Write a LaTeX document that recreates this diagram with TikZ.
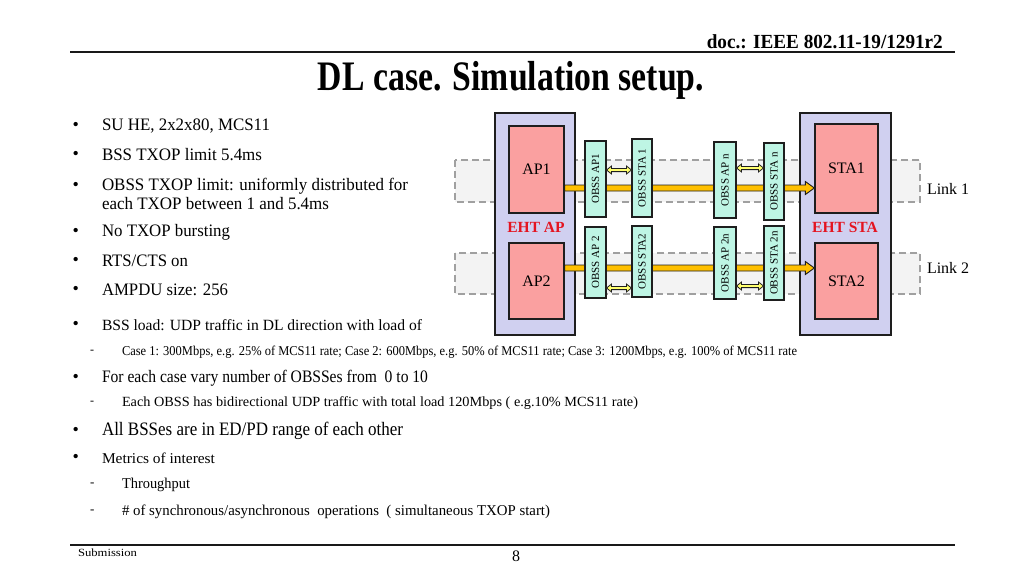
\documentclass[tikz,border=0pt]{standalone}
\usepackage{fontspec}
\setmainfont{Liberation Serif}
\usepackage{graphicx}
\usetikzlibrary{calc}
\definecolor{lav}{RGB}{208,208,240}
\definecolor{pinkbox}{RGB}{250,160,160}
\definecolor{aqua}{RGB}{190,245,228}
\definecolor{orarrow}{RGB}{255,192,0}
\definecolor{ylarrow}{RGB}{255,255,110}
\definecolor{linkfill}{RGB}{243,243,243}
\definecolor{linkdash}{RGB}{160,160,160}
\definecolor{ehtred}{RGB}{228,20,32}
\definecolor{edge}{RGB}{30,30,30}
\newcommand\fs[1]{\fontsize{#1}{#1}\selectfont}
% text set at size #2, stretched horizontally to width #1
\newcommand\fitw[3]{\resizebox{#1pt}{\height}{\fs{#2}#3}}
\newcommand\fatarrow[2]{\draw[fatarr] ($(#1)+(0,-3)$) -- ($(#2)+(-9,-3)$) -- ($(#2)+(-9,-6.5)$) -- (#2) -- ($(#2)+(-9,6.5)$) -- ($(#2)+(-9,3)$) -- ($(#1)+(0,3)$) -- cycle;}
\newcommand\dblarrow[2]{\draw[smallarr] (#1) -- ($(#1)+(5,-4)$) -- ($(#1)+(5,-1.6)$) -- ($(#2)+(-5,-1.6)$) -- ($(#2)+(-5,-4)$) -- (#2) -- ($(#2)+(-5,4)$) -- ($(#2)+(-5,1.6)$) -- ($(#1)+(5,1.6)$) -- ($(#1)+(5,4)$) -- cycle;}
\begin{document}
\begin{tikzpicture}[x=1pt,y=-1pt,
  txt/.style={anchor=west,inner sep=0pt,outer sep=0pt},
  linkbox/.style={draw=linkdash,fill=linkfill,dash pattern=on 7pt off 4pt,line width=1.3pt},
  outerbox/.style={draw=edge,fill=lav,line width=1.4pt,inner sep=0pt},
  devbox/.style={draw=edge,fill=pinkbox,line width=1.3pt,inner sep=0pt,font=\fs{16}},
  obssbox/.style={draw=edge,fill=aqua,line width=1.1pt,inner sep=0pt,font=\fs{11}},
  fatarr/.style={draw=edge,fill=orarrow,line width=0.9pt},
  smallarr/.style={draw=edge,fill=ylarrow,line width=0.8pt},
  ehtlabel/.style={inner sep=0pt,text=ehtred,font=\bfseries\fs{15.5}},
  rule/.style={line width=2pt,draw=black!90}]
\fill[white] (0,0) rectangle (1024,576);
\useasboundingbox (0,0) rectangle (1024,576);

% header and footer
\node[anchor=east,inner sep=0pt] (doc) at (943,42) {\fitw{236}{20}{\bfseries doc.: IEEE 802.11-19/1291r2}};
\coordinate (tl) at (70,52);
\coordinate (tr) at (955,52);
\draw[rule] (tl) -- (tr);
\node[inner sep=0pt] (title) at (511,80) {\fitw{386}{42}{\bfseries DL case. Simulation setup.}};
\coordinate (bl) at (70,545);
\coordinate (br) at (955,545);
\draw[rule] (bl) -- (br);
\node[txt] (sub) at (78,553) {\fitw{59}{11}{Submission}};
\node[inner sep=0pt] (pg) at (516,556) {\fs{16}8};

% bullet list
\foreach \yy/\nm in {126/b1,155/b2,186/b3,232/b4,261/b5,290/b6,325/b7,378/b8,431/b9,458/b10}
  \node[txt] (\nm) at (72.5,\yy) {\fs{18}•};
\node[txt] (t1) at (102,126) {\fitw{168}{17.5}{SU HE, 2x2x80, MCS11}};
\node[txt] (t2) at (102,155) {\fitw{160}{17.5}{BSS TXOP limit 5.4ms}};
\node[txt] (t3) at (102,186) {\fitw{306}{17.5}{OBSS TXOP limit: uniformly distributed for}};
\node[txt] (t3b) at (102,204) {\fitw{227}{17.5}{each TXOP between 1 and 5.4ms}};
\node[txt] (t4) at (102,232) {\fitw{128}{17.5}{No TXOP bursting}};
\node[txt] (t5) at (102,261) {\fitw{86}{17.5}{RTS/CTS on}};
\node[txt] (t6) at (102,290) {\fitw{126}{17.5}{AMPDU size: 256}};
\node[txt] (t7) at (102,325) {\fitw{320}{15.6}{BSS load: UDP traffic in DL direction with load of}};
\node[txt] (d1) at (90,352) {\fs{12}-};
\node[txt] (t7a) at (122,352) {\fitw{675}{13.5}{Case 1: 300Mbps, e.g. 25\% of MCS11 rate; Case 2: 600Mbps, e.g. 50\% of MCS11 rate; Case 3: 1200Mbps, e.g. 100\% of MCS11 rate}};
\node[txt] (t8) at (102,378) {\fitw{326}{17.5}{For each case vary number of OBSSes from\ \ 0 to 10}};
\node[txt] (d2) at (90,403) {\fs{12}-};
\node[txt] (t8a) at (122,403) {\fitw{516}{14}{Each OBSS has bidirectional UDP traffic with total load 120Mbps ( e.g.10\% MCS11 rate)}};
\node[txt] (t9) at (102,431) {\fitw{301}{19}{All BSSes are in ED/PD range of each other}};
\node[txt] (t10) at (102,458) {\fitw{113}{15}{Metrics of interest}};
\node[txt] (d3) at (90,485) {\fs{13}-};
\node[txt] (t10a) at (122,485) {\fitw{68}{15}{Throughput}};
\node[txt] (d4) at (90,512) {\fs{13}-};
\node[txt] (t10b) at (122,512) {\fitw{428}{15}{\# of synchronous/asynchronous\ \ operations\ \ ( simultaneous TXOP start)}};

% link bands
\draw[linkbox] (455,160) rectangle (920,202);
\draw[linkbox] (455,253) rectangle (920,294);
\node[txt] (lk1) at (927,189) {\fs{16}Link 1};
\node[txt] (lk2) at (927,268) {\fs{16}Link 2};

% EHT AP and EHT STA
\node[outerbox,minimum width=80pt,minimum height=222pt] (ehtap) at (535,224) {};
\node[outerbox,minimum width=91pt,minimum height=222pt] (ehtsta) at (845.5,224) {};
\node[devbox,minimum width=55pt,minimum height=87pt] (AP1) at (536.5,169.5) {AP1};
\node[devbox,minimum width=55pt,minimum height=76pt] (AP2) at (536.5,281) {AP2};
\node[devbox,minimum width=63pt,minimum height=89pt] (STA1) at (846.5,168.5) {STA1};
\node[devbox,minimum width=63pt,minimum height=76pt] (STA2) at (846.5,281) {STA2};
\node[ehtlabel] (lap) at (536,227) {EHT AP};
\node[ehtlabel] (lsta) at (845,227) {EHT STA};

% main data arrows
\coordinate (ya) at (0,188);
\coordinate (yb) at (0,268);
\coordinate (s1) at (AP1.east |- ya);
\coordinate (e1) at (STA1.west |- ya);
\coordinate (s2) at (AP2.east |- yb);
\coordinate (e2) at (STA2.west |- yb);
\fatarrow{s1}{e1}
\fatarrow{s2}{e2}

% OBSS boxes
\node[obssbox,minimum width=21pt,minimum height=76pt] (oap1) at (595.5,179) {\rotatebox{90}{OBSS AP1}};
\node[obssbox,minimum width=20pt,minimum height=78pt] (osta1) at (642,178) {\rotatebox{90}{OBSS STA 1}};
\node[obssbox,minimum width=21pt,minimum height=71pt] (oap2) at (595.5,262.5) {\rotatebox{90}{OBSS AP 2}};
\node[obssbox,minimum width=20pt,minimum height=71pt] (osta2) at (642,261.5) {\rotatebox{90}{OBSS STA2}};
\node[obssbox,minimum width=22pt,minimum height=76pt] (oapn) at (725,180) {\rotatebox{90}{OBSS AP n}};
\node[obssbox,minimum width=20pt,minimum height=77pt] (ostan) at (774,181.5) {\rotatebox{90}{OBSS STA n}};
\node[obssbox,minimum width=22pt,minimum height=72pt] (oap2n) at (725,263) {\rotatebox{90}{OBSS AP 2n}};
\node[obssbox,minimum width=20pt,minimum height=74pt] (osta2n) at (774,263) {\rotatebox{90}{OBSS STA 2n}};

% OBSS bidirectional arrows
\coordinate (yc) at (0,170);
\coordinate (yd) at (0,168);
\coordinate (ye) at (0,288);
\coordinate (yf) at (0,286);
\coordinate (a1) at (oap1.east |- yc);
\coordinate (b1) at (osta1.west |- yc);
\coordinate (a2) at (oapn.east |- yd);
\coordinate (b2) at (ostan.west |- yd);
\coordinate (a3) at (oap2.east |- ye);
\coordinate (b3) at (osta2.west |- ye);
\coordinate (a4) at (oap2n.east |- yf);
\coordinate (b4) at (osta2n.west |- yf);
\dblarrow{a1}{b1}
\dblarrow{a2}{b2}
\dblarrow{a3}{b3}
\dblarrow{a4}{b4}
\end{tikzpicture}
\end{document}
